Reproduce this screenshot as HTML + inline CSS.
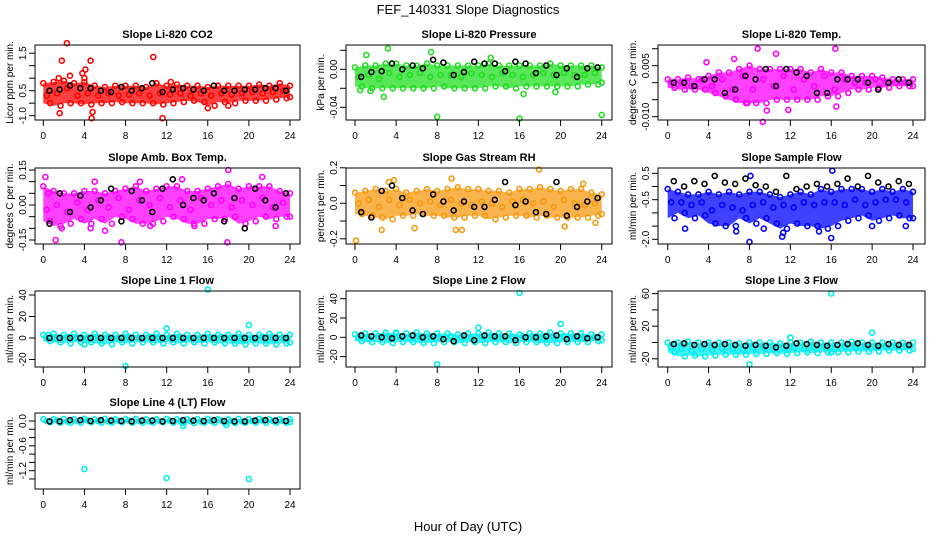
<!DOCTYPE html>
<html><head><meta charset="utf-8"><title>FEF_140331 Slope Diagnostics</title>
<style>
html,body{margin:0;padding:0;background:#fff;}
svg{display:block;font-family:"Liberation Sans",sans-serif;}
</style></head>
<body>
<svg id="chart" width="936" height="540" viewBox="0 0 936 540" xmlns="http://www.w3.org/2000/svg">
<rect x="0" y="0" width="936" height="540" fill="#fff"/>
<text x="468" y="14" text-anchor="middle" font-size="13">FEF_140331  Slope Diagnostics</text>
<text x="468" y="531" text-anchor="middle" font-size="13">Hour of Day (UTC)</text>
<g id="panels"></g>
</svg>
<script>
// x-axis ticks (shared)
const xTicks = [0, 4, 8, 12, 16, 20, 24];

// CO2
const co2Hi  = [0.3,0.35,0.4,0.3,0.35,0.2,0.15,0.2,0.2,0.2,0.15,0.3,0.2,0.25,0.2,0.2,0.15,0.2,0.2,0.2,0.2,0.25,0.2,0.3,0.2];
const co2Mid = [-0.2,-0.1,0.1,-0.2,-0.1,-0.2,-0.1,-0.2,-0.15,-0.1,-0.2,-0.1,-0.15,-0.1,-0.2,-0.1,-0.2,-0.1,-0.15,-0.1,-0.05,-0.1,-0.05,0,-0.1];
const co2Lo  = [-0.5,-0.6,-0.5,-0.5,-0.55,-0.5,-0.5,-0.45,-0.5,-0.5,-0.5,-0.55,-0.5,-0.45,-0.4,-0.45,-0.6,-0.45,-0.5,-0.4,-0.4,-0.4,-0.35,-0.3,-0.25];
const co2Blk = [0,0.05,0.2,0.1,0.1,0,-0.05,0.15,0,0.1,0.3,-0.05,0.05,0.1,0.05,0,0.2,0,0,0.05,0.05,0.1,0.1,0];
const co2Out = [[2.3,1.9],[1.8,1.2],[4.6,1.2],[10.7,1.35],[1.6,-0.9],[4.8,-0.85],[4.7,-1.1],[11.6,-1.1],[16,-0.7],[18,-0.6],[4.1,0.85],[3.8,0.7],[2.6,0.6],[12.4,0.35],[4,0.5],[1.5,0.5]];
const co2Ticks = [-1,-0.5,0,0.5,1,1.5];
const co2Labels = ["-1.0","","0.5","","","1.5"];

// Pressure
const preHi  = [0.002,0.004,0.004,0.006,0.006,0.004,0.004,0.006,0.004,0.004,0.004,0.004,0.004,0.006,0.004,0.004,0.004,0.004,0.004,0.006,0.004,0.004,0.004,0.004,0.002];
const preMid = [-0.008,-0.006,-0.01,-0.004,-0.008,-0.006,-0.004,-0.008,-0.006,-0.006,-0.008,-0.004,-0.006,-0.008,-0.004,-0.006,-0.008,-0.006,-0.004,-0.006,-0.004,-0.006,-0.006,-0.004,-0.006];
const preLo  = [-0.018,-0.02,-0.02,-0.02,-0.02,-0.02,-0.02,-0.02,-0.018,-0.02,-0.02,-0.02,-0.02,-0.018,-0.018,-0.02,-0.018,-0.018,-0.018,-0.018,-0.018,-0.018,-0.016,-0.016,-0.014];
const preBlk = [-0.008,-0.003,-0.002,0.006,0,0.004,0.001,0.01,0.007,-0.006,-0.003,0.008,0.006,0.006,-0.002,0.008,0.006,-0.004,0.004,-0.006,0.001,-0.008,0.001,0.002];
const preOut = [[8,-0.05],[16,-0.052],[24,-0.048],[3.2,0.022],[7.4,0.018],[2.8,-0.029],[16.4,-0.026],[19.5,-0.024],[0.5,-0.022],[1.5,-0.023],[1.1,0.015],[13.2,0.012]];
const preTicks = [-0.04,-0.02,0,0.02];
const preLabels = ["-0.04","","0.00",""];

// Li-820 Temp
const tmpHi  = [0.001,0.001,0.0015,0.001,0.002,0.003,0.003,0.004,0.005,0.004,0.004,0.004,0.004,0.004,0.003,0.004,0.003,0.003,0.002,0.002,0.002,0.0015,0.001,0.001,0.001];
const tmpMid = [0,0,-0.001,0.001,-0.001,0.001,-0.002,0.002,-0.002,0.001,-0.001,0.002,-0.002,0.001,-0.001,0.002,-0.002,0.001,0,0,0.001,0,0,0,0];
const tmpLo  = [-0.0015,-0.002,-0.002,-0.002,-0.003,-0.004,-0.005,-0.006,-0.006,-0.006,-0.005,-0.005,-0.005,-0.005,-0.005,-0.004,-0.004,-0.003,-0.002,-0.002,-0.0015,-0.0015,-0.001,-0.001,-0.001];
const tmpBlk = [0,0,-0.001,0.001,0.001,-0.003,-0.002,0.002,0.001,0.004,-0.001,0.004,0.003,0.002,-0.003,-0.003,0.001,0.001,0.001,0,-0.002,0,0.001,0];
const tmpOut = [[8.8,0.01],[9.3,-0.0115],[16.4,0.01],[16.5,-0.007],[11.8,-0.008],[9.7,-0.0082],[10.6,0.0085],[6.5,0.007],[3.8,0.006],[7.8,-0.006]];
const tmpTicks = [-0.01,-0.005,0,0.005,0.01];
const tmpLabels = ["-0.010","","","0.005",""];

// Amb box temp
const ambHi  = [0.08,0.06,0.05,0.05,0.06,0.06,0.05,0.06,0.07,0.08,0.06,0.07,0.08,0.08,0.06,0.06,0.07,0.08,0.09,0.07,0.08,0.08,0.08,0.06,0.05];
const ambMid = [-0.02,0,-0.03,0.01,-0.02,0.02,-0.01,0.03,-0.02,0.02,0,0.03,-0.01,0.02,-0.02,0.03,0,0.02,-0.01,0.02,0,0.03,-0.01,0.01,0];
const ambLo  = [-0.07,-0.09,-0.08,-0.06,-0.08,-0.06,-0.08,-0.05,-0.06,-0.08,-0.08,-0.07,-0.05,-0.06,-0.08,-0.08,-0.06,-0.06,-0.05,-0.08,-0.07,-0.05,-0.06,-0.05,-0.05];
const ambBlk = [-0.08,0.05,-0.03,0.04,-0.01,0.02,0.07,-0.07,0.06,0.02,-0.03,0.07,0.11,0,0.03,0.02,0.05,-0.07,0.03,-0.1,0.07,0.02,-0.01,0.05];
const ambOut = [[1.2,-0.15],[7.6,-0.16],[17.9,-0.16],[18,0.15],[0.2,0.12],[21.3,0.12],[13.5,0.11],[0.5,0.05],[1.8,-0.1],[4.6,-0.1],[6,-0.11],[10.4,-0.09],[14.7,-0.09],[22.6,-0.09],[5,0.1],[9.4,0.1]];
const ambTicks = [-0.15,-0.1,-0.05,0,0.05,0.1,0.15];
const ambLabels = ["-0.15","","","0.00","","","0.15"];

// Gas stream RH
const rhHi  = [0.06,0.07,0.08,0.07,0.08,0.06,0.07,0.08,0.07,0.08,0.09,0.08,0.08,0.07,0.07,0.06,0.08,0.08,0.09,0.08,0.07,0.08,0.08,0.06,0.05];
const rhMid = [0,0.02,-0.02,0.02,-0.01,0.02,0,0.01,-0.01,0.02,0,-0.01,0.01,0,-0.02,0.01,0.02,0,0.01,-0.02,0.02,0,-0.01,0,0.01];
const rhLo  = [-0.06,-0.07,-0.08,-0.09,-0.07,-0.07,-0.06,-0.07,-0.07,-0.08,-0.08,-0.07,-0.07,-0.09,-0.08,-0.07,-0.07,-0.08,-0.07,-0.08,-0.08,-0.08,-0.08,-0.07,-0.06];
const rhBlk = [-0.05,-0.08,0.07,0.1,0.03,-0.04,-0.06,0.05,0.01,-0.04,0.01,-0.02,-0.02,0.02,0.12,-0.01,0.01,-0.05,-0.06,0.12,-0.07,-0.02,0.01,0.03];
const rhOut = [[0.1,-0.21],[17.9,0.19],[2.6,-0.15],[5.8,-0.14],[9.4,0.14],[9.8,-0.15],[10.4,-0.15],[3.8,0.13],[3.3,0.12],[20.4,-0.13],[22.2,0.11],[23.4,-0.11]];
const rhTicks = [-0.2,-0.1,0,0.1,0.2];
const rhLabels = ["-0.2","","0.0","","0.2"];

// Sample flow
const sfHi  = [-0.1,-0.2,-0.3,-0.3,-0.2,-0.3,-0.2,-0.3,-0.2,-0.2,-0.3,-0.4,-0.3,-0.2,-0.3,-0.1,-0.2,-0.1,-0.1,-0.1,-0.2,-0.1,-0.2,-0.1,-0.2];
const sfMid = [-0.6,-0.6,-0.7,-0.6,-0.9,-0.7,-0.8,-0.9,-0.7,-0.6,-0.8,-0.7,-0.8,-0.6,-0.7,-0.6,-0.6,-0.7,-0.5,-0.7,-0.6,-0.5,-0.5,-0.6,-0.5];
const sfLo  = [-1.2,-1.0,-1.2,-1.1,-1.4,-1.5,-1.5,-1.2,-1.4,-1.2,-1.4,-1.6,-1.4,-1.5,-1.5,-1.6,-1.5,-1.3,-1.2,-1.1,-1.3,-1.2,-1.1,-1.2,-1.2];
const sfBlk = [0.2,0,0.2,0.1,0.4,0.15,0.1,0.3,0.05,0,-0.2,0.4,-0.1,0,0.1,0,0.1,0.3,0,0.4,0.15,0,0.2,0.1];
const sfOut = [[8,-2.1],[16,-1.95],[16.1,0.6],[11.2,-1.9],[11.3,-1.75],[8.1,0.4],[1.7,-1.6],[6.7,-1.7],[9.4,-1.6],[14.8,-1.7],[20,-1.5],[23.3,-1.5]];
const sfTicks = [-2,-1.5,-1,-0.5,0,0.5];
const sfLabels = ["-2.0","","","-0.5","","0.5"];

// Line 1 flow
const l1Hi  = [3,4,3,4,3,4,3,3,4,3,3,4,3,4,3,3,4,3,3,4,3,3,4,3,3];
const l1Mid = [0,-1,1,0,-1,0,1,-1,0,0,1,-1,0,1,0,-1,0,1,0,-1,0,1,0,0,0];
const l1Lo  = [-3,-4,-5,-4,-4,-5,-6,-4,-5,-4,-4,-5,-4,-5,-4,-5,-4,-5,-5,-6,-5,-5,-6,-5,-4];
const l1Blk = [0,0,0,0,0,0,0,0,0,0,0,0,0,0,0,0,0,0,0,0,0,0,0,0];
const l1Out = [[16,45],[8,-26],[12,9],[20,12],[4,-6],[0.5,3]];
const l1Ticks = [-20,0,20,40];
const l1Labels = ["-20","0","20","40"];

// Line 2 flow
const l2Hi  = [3,4,4,5,4,4,5,4,4,4,3,4,4,5,4,4,3,4,4,5,4,4,4,3,3];
const l2Mid = [0,-1,1,0,1,-1,0,0,-1,1,0,-1,1,0,-1,0,1,0,-1,0,1,0,-1,0,0];
const l2Lo  = [-4,-5,-5,-6,-5,-5,-6,-6,-5,-5,-6,-5,-6,-5,-5,-6,-5,-5,-6,-6,-5,-5,-5,-4,-3];
const l2Blk = [2,1,0,-1,1,2,0,1,-2,-4,2,-3,2,1,1,-3,0,0,1,2,-2,1,-1,0];
const l2Out = [[16,46],[8,-28],[12,10],[20,14],[4,5]];
const l2Ticks = [-20,0,20,40];
const l2Labels = ["-20","0","20","40"];

// Line 3 flow
const l3Hi  = [0,0,1,0,0,0,0,-1,0,0,0,-1,0,0,1,0,0,0,1,0,0,0,0,0,0];
const l3Mid = [-6,-8,-10,-8,-9,-7,-8,-9,-7,-6,-8,-7,-6,-8,-6,-5,-7,-5,-6,-5,-6,-5,-4,-5,-4];
const l3Lo  = [-12,-17,-16,-17,-16,-15,-15,-15,-14,-14,-13,-14,-13,-12,-13,-12,-12,-12,-11,-11,-11,-10,-10,-10,-8];
const l3Blk = [-2,-1,-3,-2,-3,-2,-3,-4,-3,-4,-6,-4,-1,-2,-3,-4,-3,-2,-1,-3,-4,-2,-3,-3];
const l3Out = [[16,60],[8,-27],[12,6],[20,12],[16,-12]];
const l3Ticks = [-20,0,20,40,60];
const l3Labels = ["-20","","20","","60"];

// Line 4 (LT) flow
const l4Hi  = [0.04,0.04,0.05,0.04,0.05,0.04,0.05,0.04,0.04,0.05,0.04,0.04,0.05,0.04,0.04,0.04,0.05,0.04,0.04,0.05,0.04,0.05,0.04,0.04,0.04];
const l4Mid = [0,0.01,-0.01,0,0.01,0,-0.01,0,0.01,0,-0.01,0,0.01,0,0,-0.01,0,0.01,0,-0.01,0,0.01,0,0,0];
const l4Lo  = [-0.03,-0.04,-0.04,-0.04,-0.03,-0.04,-0.04,-0.03,-0.04,-0.04,-0.04,-0.03,-0.04,-0.04,-0.05,-0.04,-0.04,-0.04,-0.05,-0.04,-0.04,-0.04,-0.04,-0.04,-0.03];
const l4Blk = [-0.01,-0.01,0.02,0.02,0,0.02,0.01,0,-0.01,0.01,0.01,-0.01,0,0.02,0.01,0,0.02,0,-0.01,-0.01,0.01,0.02,0.01,0];
const l4Out = [[4,-1.16],[12,-1.38],[20,-1.4],[13.6,-0.12],[17.8,-0.1]];
const l4Ticks = [-1.4,-1.2,-1.0,-0.8,-0.6,-0.4,-0.2,0];
const l4Labels = ["","-1.2","","","-0.6","","","0.0"];

const panels = [
 {name:"co2", title:"Slope Li-820 CO2", ylab:"Licor ppm per min.", col:"#ff0000", L:35,R:300,T:45,B:120, x0:43.3,x24:290, y0:90.7, k:25, hi:co2Hi,mid:co2Mid,lo:co2Lo,blk:co2Blk,out:co2Out,ticks:co2Ticks,labels:co2Labels},
 {name:"pressure", title:"Slope Li-820 Pressure", ylab:"kPa per min.", col:"#22dd22", L:346,R:612,T:45,B:120, x0:355,x24:601.7, y0:69.3, k:950, hi:preHi,mid:preMid,lo:preLo,blk:preBlk,out:preOut,ticks:preTicks,labels:preLabels},
 {name:"li820-temp", title:"Slope Li-820 Temp.", ylab:"degrees C per min.", col:"#ff00ff", L:658,R:925,T:45,B:120, x0:667.7,x24:913, y0:82.7, k:3400, hi:tmpHi,mid:tmpMid,lo:tmpLo,blk:tmpBlk,out:tmpOut,ticks:tmpTicks,labels:tmpLabels},
 {name:"amb-box-temp", title:"Slope Amb. Box Temp.", ylab:"degrees C per min.", col:"#ff00ff", L:35,R:300,T:168,B:244, x0:43.3,x24:290, y0:205, k:233.3, hi:ambHi,mid:ambMid,lo:ambLo,blk:ambBlk,out:ambOut,ticks:ambTicks,labels:ambLabels},
 {name:"gas-stream-rh", title:"Slope Gas Stream RH", ylab:"percent per min.", col:"#f59a10", L:346,R:612,T:168,B:244, x0:355,x24:601.7, y0:203.3, k:177.5, hi:rhHi,mid:rhMid,lo:rhLo,blk:rhBlk,out:rhOut,ticks:rhTicks,labels:rhLabels},
 {name:"sample-flow", title:"Slope Sample Flow", ylab:"ml/min per min.", col:"#0000ff", L:658,R:925,T:168,B:244, x0:667.7,x24:913, y0:186.5, k:26.4, hi:sfHi,mid:sfMid,lo:sfLo,blk:sfBlk,out:sfOut,ticks:sfTicks,labels:sfLabels},
 {name:"line1-flow", title:"Slope Line 1 Flow", ylab:"ml/min per min.", col:"#00eeee", L:35,R:300,T:291,B:367, x0:43.3,x24:290, y0:338, k:1.075, hi:l1Hi,mid:l1Mid,lo:l1Lo,blk:l1Blk,out:l1Out,ticks:l1Ticks,labels:l1Labels},
 {name:"line2-flow", title:"Slope Line 2 Flow", ylab:"ml/min per min.", col:"#00eeee", L:346,R:612,T:291,B:367, x0:355,x24:601.7, y0:337.3, k:0.965, hi:l2Hi,mid:l2Mid,lo:l2Lo,blk:l2Blk,out:l2Out,ticks:l2Ticks,labels:l2Labels},
 {name:"line3-flow", title:"Slope Line 3 Flow", ylab:"ml/min per min.", col:"#00eeee", L:658,R:925,T:291,B:367, x0:667.7,x24:913, y0:342.5, k:0.815, hi:l3Hi,mid:l3Mid,lo:l3Lo,blk:l3Blk,out:l3Out,ticks:l3Ticks,labels:l3Labels},
 {name:"line4-flow", title:"Slope Line 4 (LT) Flow", ylab:"ml/min per min.", col:"#00eeee", L:35,R:300,T:413,B:489, x0:43.3,x24:290, y0:421, k:41.4, hi:l4Hi,mid:l4Mid,lo:l4Lo,blk:l4Blk,out:l4Out,ticks:l4Ticks,labels:l4Labels}
];

const NS = "http://www.w3.org/2000/svg";
const root = document.getElementById("panels");
function mk(tag, attrs, parent){const e=document.createElementNS(NS,tag);for(const k in attrs)e.setAttribute(k,attrs[k]);parent.appendChild(e);return e;}

panels.forEach(p=>{
  const sx = h => p.x0 + h*(p.x24-p.x0)/24;
  const sy = v => p.y0 - v*p.k;
  const g = mk("g",{},root);
  
  

  const t = mk("text",{x:(p.L+p.R)/2,y:p.T-7,"text-anchor":"middle","font-size":"11","font-weight":"bold"},g);
  t.textContent = p.title;
  
  

  const yl = mk("text",{x:0,y:0,"text-anchor":"middle","font-size":"10",transform:`translate(${p.L-22},${(p.T+p.B)/2}) rotate(-90)`},g);
  yl.textContent = p.ylab;
  
  

  // band area
  let d = "";
  p.hi.forEach((v,i)=>{d += (i?"L":"M")+sx(i).toFixed(1)+","+sy(v).toFixed(1);});
  for(let i=p.lo.length-1;i>=0;i--) d += "L"+sx(i).toFixed(1)+","+sy(p.lo[i]).toFixed(1);
  const band = mk("path",{d:d+"Z",fill:p.col,"fill-opacity":"0.75",stroke:"none"},g);
  
  

  const pts = mk("g",{fill:"none",stroke:p.col,"stroke-width":"1.6"},g);
  
  
  const addPt = (h,v,parent,cls)=>{
    const c = mk("circle",{cx:sx(h).toFixed(1),cy:sy(v).toFixed(1),r:"2.5"},parent);
    
    
  };
  p.hi.forEach((v,i)=>addPt(i,v,pts,'point'));
  p.mid.forEach((v,i)=>{ if(i<24) addPt(i+0.33,v,pts,'point'); });
  p.lo.forEach((v,i)=>{ if(i<24) addPt(i+0.67,v,pts,'point'); else addPt(i,v,pts,'point'); });
  p.out.forEach(o=>addPt(o[0],o[1],pts,'outlier-point'));

  const bl = mk("g",{fill:"none",stroke:"#000","stroke-width":"1.6"},g);
  
  
  p.blk.forEach((v,i)=>addPt(i+0.6,v,bl,'black-point'));

  // frame
  const fr = mk("rect",{x:p.L,y:p.T,width:p.R-p.L,height:p.B-p.T,fill:"none",stroke:"#000","stroke-width":"1"},g);
  
  

  // x axis
  const xa = mk("g",{},g);
  
  
  mk("line",{x1:sx(xTicks[0]),x2:sx(xTicks[xTicks.length-1]),y1:p.B,y2:p.B,stroke:"#000"},xa);
  xTicks.forEach(h=>{
    mk("line",{x1:sx(h),x2:sx(h),y1:p.B,y2:p.B+6,stroke:"#000"},xa);
    const tl = mk("text",{x:sx(h),y:p.B+19,"text-anchor":"middle","font-size":"10"},xa);
    tl.textContent = String(h);
    
    
  });

  // y axis
  const ya = mk("g",{},g);
  
  
  mk("line",{x1:p.L,x2:p.L,y1:sy(p.ticks[0]),y2:sy(p.ticks[p.ticks.length-1]),stroke:"#000"},ya);
  p.ticks.forEach((v,i)=>{
    mk("line",{x1:p.L-6,x2:p.L,y1:sy(v),y2:sy(v),stroke:"#000"},ya);
    if(p.labels[i]){
      const tl = mk("text",{x:0,y:0,"text-anchor":"middle","font-size":"10",transform:`translate(${p.L-9},${sy(v).toFixed(1)}) rotate(-90)`},ya);
      tl.textContent = p.labels[i];
      
      
    }
  });
});
</script>
</body></html>
